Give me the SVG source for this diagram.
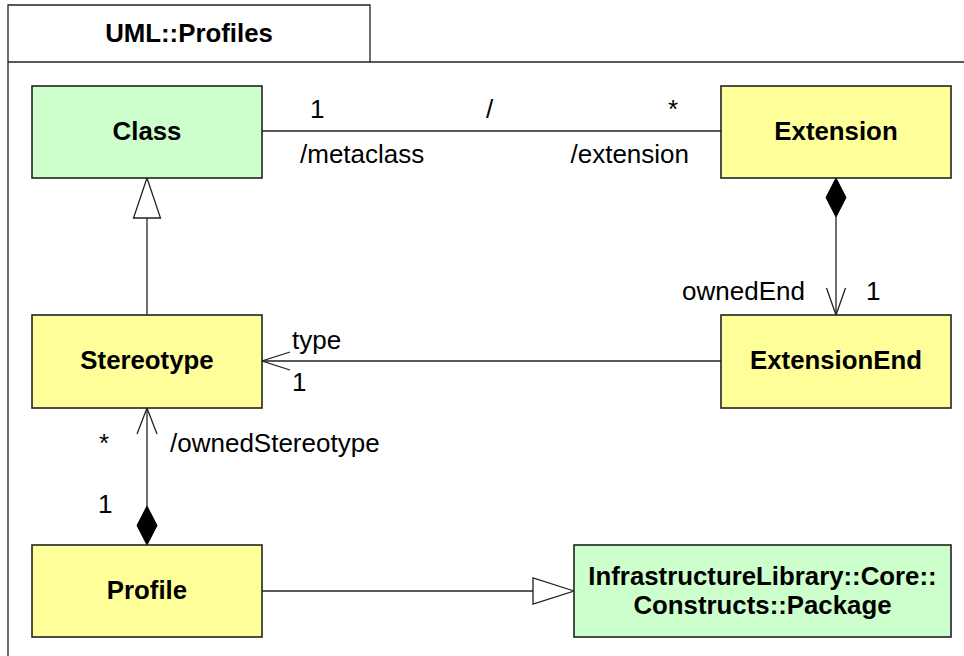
<svg xmlns="http://www.w3.org/2000/svg" width="964" height="656" viewBox="0 0 964 656">
<style>
.box{stroke:#222;stroke-width:1.6}
.cls{fill:#ccffcc}
.yel{fill:#ffff99}
.name{font-family:"Liberation Sans",Arial,sans-serif;font-weight:bold;font-size:25.8px;fill:#000;text-anchor:middle}
.lbl{font-family:"Liberation Sans",Arial,sans-serif;font-size:26px;fill:#000}
.ln{stroke:#222;stroke-width:1.3;fill:none}
.hollow{fill:#fff;stroke:#222;stroke-width:1.3}
.solid{fill:#000;stroke:#000;stroke-width:1}
</style>
<rect width="964" height="656" fill="#fff"/>
<g id="package-frame">
<path d="M8 656 V5 H370 V62" class="ln" stroke-width="1.5"/>
<line x1="8" y1="62" x2="964" y2="62" class="ln" stroke-width="1.5"/>
<text x="189" y="42" class="name">UML::Profiles</text>
</g>
<g id="connectors">
<line x1="262" y1="131" x2="721" y2="131" class="ln"/>
<line x1="147" y1="218" x2="147" y2="315" class="ln"/>
<polygon points="147,178 133.5,218 160.5,218" class="hollow"/>
<line x1="836" y1="217" x2="836" y2="315" class="ln"/>
<polygon points="836,178 846,197.5 836,217 826,197.5" class="solid"/>
<polyline points="826.5,288 836,315 845.5,288" class="ln"/>
<line x1="262" y1="361" x2="721" y2="361" class="ln"/>
<polyline points="290,352 262,361 290,370" class="ln"/>
<line x1="147" y1="408" x2="147" y2="506" class="ln"/>
<polyline points="137,434 147,408 157,434" class="ln"/>
<polygon points="147,506 157,525.5 147,545 137,525.5" class="solid"/>
<line x1="262" y1="591" x2="533" y2="591" class="ln"/>
<polygon points="574,591 533,578 533,604" class="hollow"/>
<text x="310" y="118" class="lbl">1</text>
<text x="486" y="118" class="lbl">/</text>
<text x="668" y="118" class="lbl">*</text>
<text x="300" y="163" class="lbl">/metaclass</text>
<text x="689" y="163" class="lbl" text-anchor="end">/extension</text>
<text x="805" y="300" class="lbl" text-anchor="end">ownedEnd</text>
<text x="866" y="300" class="lbl">1</text>
<text x="292" y="349" class="lbl">type</text>
<text x="292" y="391" class="lbl">1</text>
<text x="99" y="452" class="lbl">*</text>
<text x="170" y="452" class="lbl">/ownedStereotype</text>
<text x="98" y="513" class="lbl">1</text>
</g>
<g id="node-class">
<rect x="32" y="86" width="230" height="92" class="box cls"/>
<text x="147" y="140" class="name">Class</text>
</g>
<g id="node-extension">
<rect x="721" y="86" width="230" height="92" class="box yel"/>
<text x="836" y="140" class="name">Extension</text>
</g>
<g id="node-stereotype">
<rect x="32" y="315" width="230" height="93" class="box yel"/>
<text x="147" y="369" class="name">Stereotype</text>
</g>
<g id="node-extensionend">
<rect x="721" y="315" width="230" height="93" class="box yel"/>
<text x="836" y="369" class="name">ExtensionEnd</text>
</g>
<g id="node-profile">
<rect x="32" y="545" width="230" height="92" class="box yel"/>
<text x="147" y="599" class="name">Profile</text>
</g>
<g id="node-package">
<rect x="574" y="545" width="377" height="92" class="box cls"/>
<text x="762.5" y="585" class="name">InfrastructureLibrary::Core::</text>
<text x="762.5" y="614" class="name">Constructs::Package</text>
</g>
</svg>
